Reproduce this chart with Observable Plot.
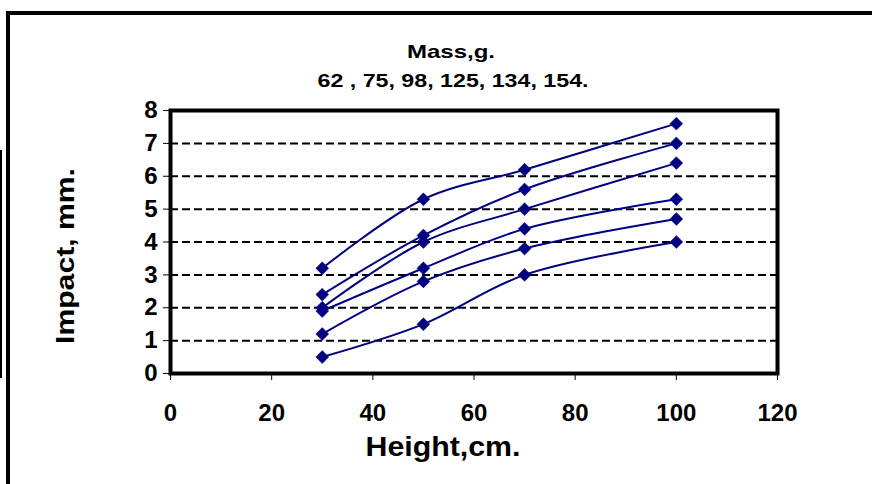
<!DOCTYPE html>
<html><head><meta charset="utf-8">
<script src="https://cdn.jsdelivr.net/npm/d3@7"></script>
<script src="https://cdn.jsdelivr.net/npm/@observablehq/plot@0.6"></script>
<style>
body{margin:0;background:#fff;}
#wrap{position:relative;width:872px;height:484px;overflow:hidden;background:#fff;}
.ln{position:absolute;background:#000;}
#chart{position:absolute;left:0;top:0;}
</style></head><body>
<div id="wrap">
<div class="ln" style="left:6px;top:11px;width:866px;height:4px"></div>
<div class="ln" style="left:6px;top:11px;width:4px;height:473px"></div>
<div class="ln" style="left:0;top:150px;width:2px;height:228px"></div>
<div id="chart"></div>
</div>
<script>
// Data
const heights = [30, 50, 70, 100];           // Height, cm
const masses = [62, 75, 98, 125, 134, 154];  // Mass, g
const impact62  = [0.5, 1.5, 3.0, 4.0];
const impact75  = [1.2, 2.8, 3.8, 4.7];
const impact98  = [1.9, 3.2, 4.4, 5.3];
const impact125 = [2.0, 4.0, 5.0, 6.4];
const impact134 = [2.4, 4.2, 5.6, 7.0];
const impact154 = [3.2, 5.3, 6.2, 7.6];
const xTicks = [0, 20, 40, 60, 80, 100, 120];
const yTicks = [0, 1, 2, 3, 4, 5, 6, 7, 8];
const yGrid = [1, 2, 3, 4, 5, 6, 7];
const titleLine1 = "Mass,g.";
const titleLine2 = "62 , 75, 98, 125, 134, 154.";
const xLabel = "Height,cm.";
const yLabel = "Impact, mm.";

const seriesList = [impact62, impact75, impact98, impact125, impact134, impact154];
const data = masses.flatMap((m, i) => heights.map((h, j) => ({mass: m, height: h, impact: seriesList[i][j]})));

const navy = "#000080";
const font = "'Liberation Sans', Arial, sans-serif";

const chart = Plot.plot({
  width: 872,
  height: 484,
  marginLeft: 170,
  marginRight: 95,
  marginTop: 110,
  marginBottom: 111,
  style: {fontFamily: font, fontWeight: "bold", background: "transparent", overflow: "visible", color: "#000"},
  x: {domain: [0, 120]},
  y: {domain: [0, 8]},
  marks: [
    Plot.gridY(yGrid, {stroke: "#000", strokeOpacity: 1, strokeWidth: 2, strokeDasharray: "8,4"}),
    Plot.line(data, {x: "height", y: "impact", z: "mass", curve: "catmull-rom", stroke: navy, strokeWidth: 2}),
    Plot.dot(data, {x: "height", y: "impact", symbol: "diamond2", r: 5.8, fill: navy, stroke: navy, strokeWidth: 0.5}),
    Plot.frame({stroke: "#000", strokeWidth: 4}),
    Plot.axisY(yTicks, {tickSize: 7, tickPadding: 6, fontSize: 24, fontWeight: "bold", label: null, fill: "#000"}),
    Plot.axisX(xTicks, {tickSize: 7, tickPadding: 23, fontSize: 24, fontWeight: "bold", label: null, fill: "#000"}),
    Plot.text([titleLine1], {frameAnchor: "top", textAnchor: "middle", dx: -23, dy: -59, fontSize: 19, fontWeight: "bold", fill: "#000", lineAnchor: "middle"}),
    Plot.text([titleLine2], {frameAnchor: "top", textAnchor: "middle", dx: -21, dy: -30, fontSize: 19, fontWeight: "bold", fill: "#000", lineAnchor: "middle"}),
    Plot.text([xLabel], {frameAnchor: "bottom", textAnchor: "middle", dx: -31, dy: 74, fontSize: 28, fontWeight: "bold", fill: "#000", lineAnchor: "middle"}),
    Plot.text([yLabel], {frameAnchor: "left", textAnchor: "middle", rotate: -90, dx: -105, dy: 14, fontSize: 25, fontWeight: "bold", fill: "#000", lineAnchor: "middle"})
  ]
});
document.getElementById("chart").appendChild(chart);
const fits = new Map([[titleLine1, 88], [titleLine2, 271], [yLabel, 176], [xLabel, 155]]);
d3.select(chart).selectAll("text").each(function() {
  const t = this.textContent;
  if (fits.has(t)) {
    this.setAttribute("textLength", fits.get(t));
    this.setAttribute("lengthAdjust", "spacingAndGlyphs");
  }
});
</script>
</body></html>
